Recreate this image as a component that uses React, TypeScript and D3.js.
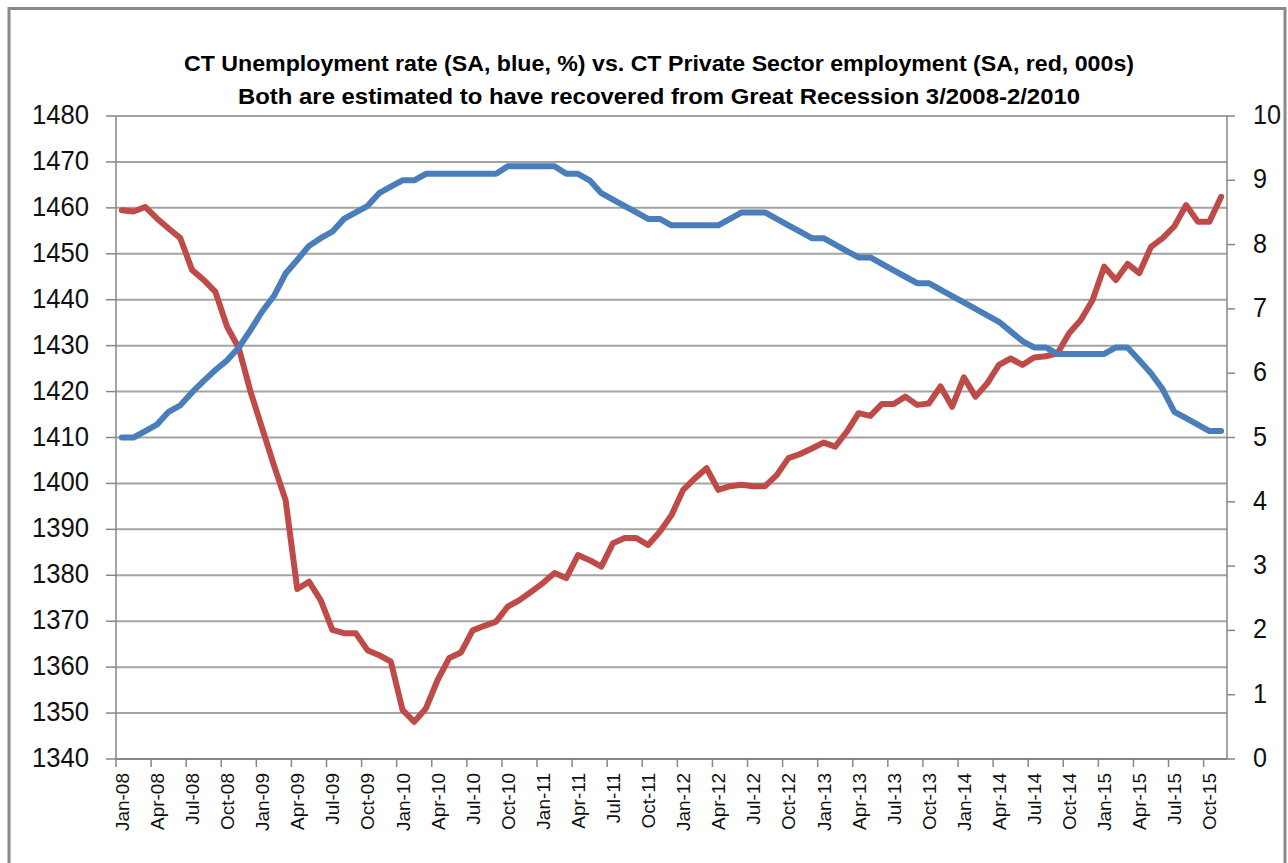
import React from 'react';
import * as d3 from 'd3';

// Months Jan-08 .. Nov-15 (category axis)
const months = d3.timeMonths(new Date(2008, 0, 1), new Date(2015, 11, 1));

const tickLabels = [
    'Jan-08', 'Apr-08', 'Jul-08', 'Oct-08', 'Jan-09', 'Apr-09', 'Jul-09', 'Oct-09',
    'Jan-10', 'Apr-10', 'Jul-10', 'Oct-10', 'Jan-11', 'Apr-11', 'Jul-11', 'Oct-11',
    'Jan-12', 'Apr-12', 'Jul-12', 'Oct-12', 'Jan-13', 'Apr-13', 'Jul-13', 'Oct-13',
    'Jan-14', 'Apr-14', 'Jul-14', 'Oct-14', 'Jan-15', 'Apr-15', 'Jul-15', 'Oct-15',
];

// CT private sector employment (SA, 000s) - left axis
const privateEmployment = [
    1459.5, 1459.2, 1460.2, 1457.7, 1455.5, 1453.4, 1446.5, 1444.3, 1441.7, 1434.1,
    1429.5, 1420.0, 1412.0, 1404.0, 1396.4, 1377.0, 1378.6, 1374.6, 1368.1, 1367.4,
    1367.4, 1363.7, 1362.6, 1361.2, 1350.7, 1348.1, 1351.0, 1357.2, 1362.0, 1363.2,
    1368.0, 1369.0, 1369.9, 1373.2, 1374.6, 1376.4, 1378.3, 1380.5, 1379.4, 1384.4,
    1383.3, 1381.9, 1387.0, 1388.1, 1388.1, 1386.6, 1389.5, 1393.1, 1398.6, 1401.1,
    1403.3, 1398.6, 1399.4, 1399.7, 1399.4, 1399.4, 1401.8, 1405.5, 1406.4, 1407.6,
    1408.9, 1408.0, 1411.3, 1415.3, 1414.7, 1417.3, 1417.3, 1418.9, 1417.1, 1417.4,
    1421.1, 1416.7, 1423.1, 1418.9, 1421.8, 1425.8, 1427.2, 1425.8, 1427.4, 1427.7,
    1428.3, 1432.7, 1435.6, 1439.9, 1447.2, 1444.3, 1447.8, 1445.8, 1451.5, 1453.4,
    1456.0, 1460.6, 1457.0, 1457.0, 1462.4,
];

// CT unemployment rate (SA, %) - right axis
const unemploymentRate = [
    5.0, 5.0, 5.1, 5.2, 5.4, 5.5, 5.7, 5.88, 6.05, 6.2,
    6.4, 6.67, 6.96, 7.2, 7.55, 7.76, 7.98, 8.1, 8.2, 8.4,
    8.5, 8.6, 8.8, 8.9, 9.0, 9.0, 9.1, 9.1, 9.1, 9.1,
    9.1, 9.1, 9.1, 9.22, 9.22, 9.22, 9.22, 9.22, 9.1, 9.1,
    9.0, 8.8, 8.7, 8.6, 8.5, 8.4, 8.4, 8.3, 8.3, 8.3,
    8.3, 8.3, 8.4, 8.5, 8.5, 8.5, 8.4, 8.3, 8.2, 8.1,
    8.1, 8.0, 7.9, 7.8, 7.8, 7.7, 7.6, 7.5, 7.4, 7.4,
    7.3, 7.2, 7.1, 7.0, 6.9, 6.8, 6.65, 6.5, 6.4, 6.4,
    6.3, 6.3, 6.3, 6.3, 6.3, 6.4, 6.4, 6.2, 6.0, 5.75,
    5.4, 5.3, 5.2, 5.1, 5.1,
];

const leftTicks = d3.range(1340, 1481, 10);
const rightTicks = d3.range(0, 11, 1);

const titleLines = [
    'CT Unemployment rate (SA, blue, %) vs. CT Private Sector employment (SA, red, 000s)',
    'Both are estimated to have recovered from Great Recession 3/2008-2/2010',
];

const W = 1288;
const H = 863;
const plot = { left: 116, right: 1227, top: 116, bottom: 759 };
const FONT = '"Liberation Sans", Arial, sans-serif';

export default function App() {
    const x = d3.scaleBand<number>()
        .domain(months.map((_, i) => i))
        .range([plot.left, plot.right])
        .paddingInner(0)
        .paddingOuter(0);

    const yLeft = d3.scaleLinear().domain([1340, 1480]).range([plot.bottom, plot.top]);
    const yRight = d3.scaleLinear().domain([0, 10]).range([plot.bottom, plot.top]);

    const cx = (i: number) => (x(i) as number) + x.bandwidth() / 2;

    const redLine = d3.line<number>()
        .x((_, i) => cx(i))
        .y(d => yLeft(d));

    const blueLine = d3.line<number>()
        .x((_, i) => cx(i))
        .y(d => yRight(d));

    // boundary ticks every 3 months
    const xTickPos = d3.range(0, months.length, 3).map(i => x(i) as number);

    const axisColor = '#878787';
    const gridColor = '#a3a3a3';

    return (
        <svg
            width={W}
            height={H}
            style={{ position: 'absolute', left: 0, top: 0, display: 'block' }}
            fontFamily={FONT}
        >
            <rect x={0} y={0} width={W} height={H} fill="#ffffff" />
            <rect x={9} y={8.5} width={1276} height={H + 10} fill="none" stroke="#8a8a8a" strokeWidth={3} />

            {/* title */}
            {titleLines.map((t, i) => (
                <text
                    key={t}
                    x={659}
                    y={71 + i * 33}
                    textAnchor="middle"
                    fontSize={22}
                    fontWeight="bold"
                    fill="#000"
                    textLength={i === 0 ? 950 : 842}
                    lengthAdjust="spacingAndGlyphs"
                >
                    {t}
                </text>
            ))}

            {/* gridlines */}
            {leftTicks.filter(t => t > 1340).map(t => (
                <line key={t} x1={plot.left} x2={plot.right} y1={yLeft(t)} y2={yLeft(t)} stroke={gridColor} strokeWidth={2} />
            ))}

            {/* left axis */}
            <line x1={plot.left} x2={plot.left} y1={plot.top} y2={plot.bottom} stroke={axisColor} strokeWidth={1.5} />
            {leftTicks.map(t => (
                <g key={t}>
                    <line x1={plot.left - 10} x2={plot.left} y1={yLeft(t)} y2={yLeft(t)} stroke={axisColor} strokeWidth={1.5} />
                    <text
                        x={89}
                        y={yLeft(t) + 8}
                        textAnchor="end"
                        fontSize={27}
                        fill="#111"
                        textLength={57}
                        lengthAdjust="spacingAndGlyphs"
                    >
                        {t}
                    </text>
                </g>
            ))}

            {/* right axis */}
            <line x1={plot.right} x2={plot.right} y1={plot.top} y2={plot.bottom} stroke={axisColor} strokeWidth={1.5} />
            {rightTicks.map(t => (
                <g key={t}>
                    <line x1={plot.right} x2={plot.right + 8} y1={yRight(t)} y2={yRight(t)} stroke={axisColor} strokeWidth={1.5} />
                    <text
                        x={1253}
                        y={yRight(t) + 8}
                        textAnchor="start"
                        fontSize={27}
                        fill="#111"
                        textLength={String(t).length * 14}
                        lengthAdjust="spacingAndGlyphs"
                    >
                        {t}
                    </text>
                </g>
            ))}

            {/* bottom axis */}
            <line x1={plot.left} x2={plot.right} y1={plot.bottom} y2={plot.bottom} stroke={axisColor} strokeWidth={2} />
            {xTickPos.map((p, i) => (
                <line key={i} x1={p} x2={p} y1={plot.bottom} y2={plot.bottom + 8} stroke={axisColor} strokeWidth={1.5} />
            ))}
            {tickLabels.map((lab, k) => {
                const px = cx(k * 3);
                const py = 773;
                return (
                    <text
                        key={lab}
                        transform={`translate(${px + 7},${py}) rotate(-90)`}
                        textAnchor="end"
                        fontSize={19}
                        fill="#111"
                    >
                        {lab}
                    </text>
                );
            })}

            {/* series */}
            <path d={redLine(privateEmployment) || ''} fill="none" stroke="#be4b48" strokeWidth={6} strokeLinejoin="round" strokeLinecap="round" />
            <path d={blueLine(unemploymentRate) || ''} fill="none" stroke="#4a7ebb" strokeWidth={6} strokeLinejoin="round" strokeLinecap="round" />
        </svg>
    );
}
